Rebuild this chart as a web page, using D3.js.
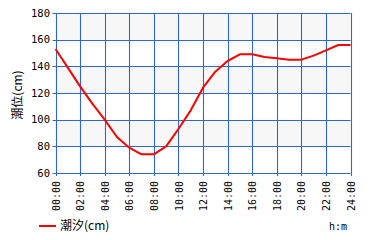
<!DOCTYPE html>
<html><head><meta charset="utf-8">
<script src="https://cdn.jsdelivr.net/npm/d3@7"></script>
<style>body{margin:0;background:#fff}svg{display:block}</style>
</head><body>
<svg id="c" width="380" height="240"></svg>
<script>
const hours = d3.range(0, 25);
const tide = [153, 139, 125, 112, 100, 87, 79, 74, 74, 80, 93, 107, 124, 136, 144, 149, 149, 147, 146, 145, 145, 148, 152, 156, 156];
const xTicks = [0, 2, 4, 6, 8, 10, 12, 14, 16, 18, 20, 22, 24];
const xTickLabels = ["00:00","02:00","04:00","06:00","08:00","10:00","12:00","14:00","16:00","18:00","20:00","22:00","24:00"];
const yTicks = [60, 80, 100, 120, 140, 160, 180];
const shadedBands = [[80, 100], [120, 140], [160, 180]];
const seriesName = "潮汐(cm)";
const yTitle = "潮位(cm)";
const xTitle = "h:m";

const svg = d3.select("#c");
const L = 55.5, R = 350.5, T = 13, B = 173;
const x = d3.scaleLinear().domain([0, 24]).range([L, R]);
const y = d3.scaleLinear().domain([60, 180]).range([B, T]);
const grid = "#3366cc";
const mono = "'DejaVu Sans Mono', monospace";
const cjk = "'Noto Sans CJK JP', sans-serif";

svg.append("g").selectAll("rect").data(shadedBands).join("rect")
  .attr("x", L).attr("width", R - L)
  .attr("y", d => y(d[1])).attr("height", d => y(d[0]) - y(d[1]))
  .attr("fill", "#f7f7f7");

// grid lines
svg.append("g").selectAll("line").data(xTicks).join("line")
  .attr("x1", d => Math.round(x(d)) + 0.5).attr("x2", d => Math.round(x(d)) + 0.5)
  .attr("y1", T).attr("y2", B + 3)
  .attr("stroke", grid).attr("stroke-width", 1.1);
svg.append("g").selectAll("line").data(yTicks).join("line")
  .attr("y1", d => Math.round(y(d)) + 0.5).attr("y2", d => Math.round(y(d)) + 0.5)
  .attr("x1", L - 3).attr("x2", R)
  .attr("stroke", grid).attr("stroke-width", 1.1);

// y tick labels
svg.append("g").selectAll("text").data(yTicks).join("text")
  .attr("x", 50).attr("y", d => y(d)).attr("dy", "0.36em")
  .attr("text-anchor", "end").attr("font-family", mono).attr("font-size", 10.5)
  .attr("fill", "#000").text(d => d);

// x tick labels
svg.append("g").selectAll("text").data(xTicks).join("text")
  .attr("transform", d => `translate(${x(d) + 0.5},181) rotate(-90)`)
  .attr("dy", "0.36em").attr("text-anchor", "end")
  .attr("font-family", mono).attr("font-size", 10)
  .attr("fill", "#000").text((d, i) => xTickLabels[i]);

// y title
svg.append("text")
  .attr("transform", `translate(18,${(T + B) / 2 + 2}) rotate(-90)`)
  .attr("dy", "0.36em").attr("text-anchor", "middle")
  .attr("font-family", cjk).attr("font-size", 12).attr("fill", "#000").text(yTitle);

// line
const line = d3.line().x((d, i) => x(hours[i])).y(d => y(d));
svg.append("path").datum(tide).attr("d", line)
  .attr("fill", "none").attr("stroke", "#ff0000").attr("stroke-width", 2)
  .attr("stroke-linejoin", "round");

// legend
svg.append("line").attr("x1", 39).attr("x2", 56).attr("y1", 226).attr("y2", 226)
  .attr("stroke", "#ff0000").attr("stroke-width", 2);
svg.append("text").attr("x", 60).attr("y", 226).attr("dy", "0.36em")
  .attr("font-family", cjk).attr("font-size", 12).attr("fill", "#000").text(seriesName);
svg.append("text").attr("x", 347).attr("y", 226).attr("dy", "0.36em")
  .attr("text-anchor", "end").attr("font-family", mono).attr("font-size", 10)
  .attr("fill", "#000").text(xTitle);
</script>
</body></html>
